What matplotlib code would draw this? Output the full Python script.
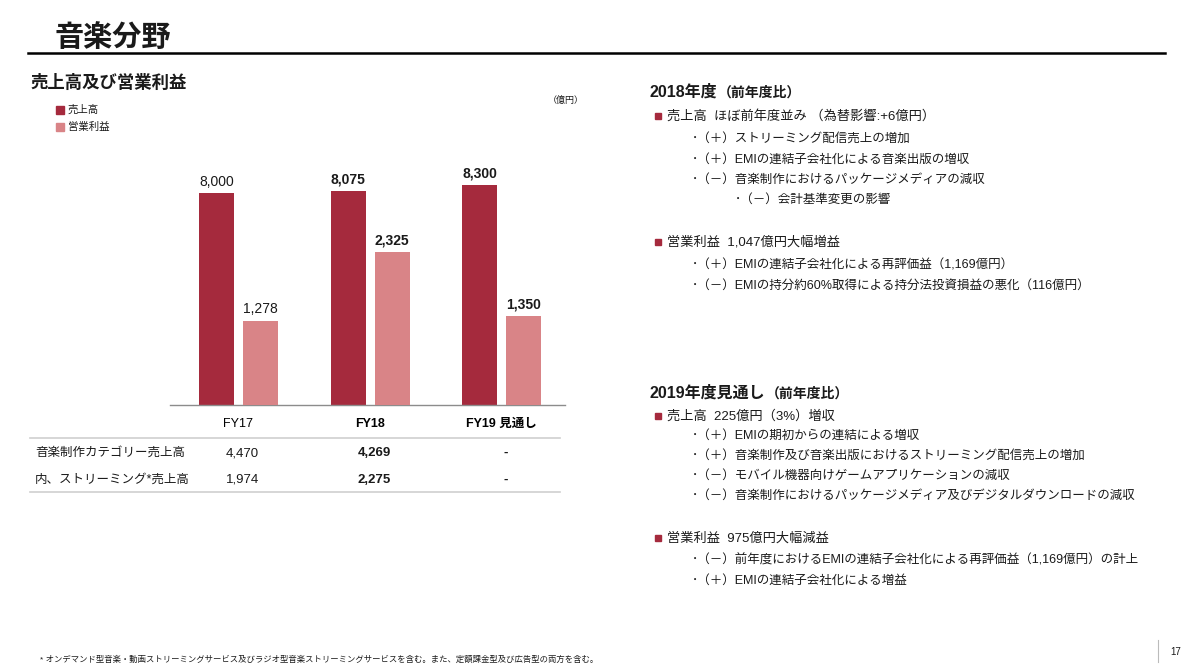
import matplotlib
matplotlib.use("Agg")
import matplotlib.pyplot as plt
from matplotlib.transforms import blended_transform_factory
from matplotlib.patches import Rectangle
from matplotlib.lines import Line2D

plt.rcParams['font.family'] = ['Liberation Sans', 'Noto Sans CJK JP', 'DejaVu Sans']

# ---------------- data ----------------
categories = ['FY17', 'FY18', 'FY19 見通し']
bold_cols = [False, True, True]
sales = [8000, 8075, 8300]
profit = [1278, 2325, 1350]
sales_labels = ['8,000', '8,075', '8,300']
profit_labels = ['1,278', '2,325', '1,350']
table_rows = ['音楽制作カテゴリー売上高', '内、ストリーミング*売上高']
music_prod_sales = ['4,470', '4,269', '-']
streaming_sales = ['1,974', '2,275', '-']

title = '音楽分野'
subtitle = '売上高及び営業利益'
legend_labels = ['売上高', '営業利益']
unit_label = '（億円）'

sec1_head = '2018年度'
sec1_head2 = '（前年度比）'
sec1_b1 = '売上高  ほぼ前年度並み （為替影響:+6億円）'
sec1_b1_items = ['･（＋）ストリーミング配信売上の増加',
                 '･（＋）EMIの連結子会社化による音楽出版の増収',
                 '･（－）音楽制作におけるパッケージメディアの減収']
sec1_b1_sub = '･（－）会計基準変更の影響'
sec1_b2 = '営業利益  1,047億円大幅増益'
sec1_b2_items = ['･（＋）EMIの連結子会社化による再評価益（1,169億円）',
                 '･（－）EMIの持分約60%取得による持分法投資損益の悪化（116億円）']

sec2_head = '2019年度見通し'
sec2_head2 = '（前年度比）'
sec2_b1 = '売上高  225億円（3%）増収'
sec2_b1_items = ['･（＋）EMIの期初からの連結による増収',
                 '･（＋）音楽制作及び音楽出版におけるストリーミング配信売上の増加',
                 '･（－）モバイル機器向けゲームアプリケーションの減収',
                 '･（－）音楽制作におけるパッケージメディア及びデジタルダウンロードの減収']
sec2_b2 = '営業利益  975億円大幅減益'
sec2_b2_items = ['･（－）前年度におけるEMIの連結子会社化による再評価益（1,169億円）の計上',
                 '･（＋）EMIの連結子会社化による増益']

footnote = '* オンデマンド型音楽・動画ストリーミングサービス及びラジオ型音楽ストリーミングサービスを含む。また、定額課金型及び広告型の両方を含む。'
page_no = '17'

c_sales = '#A52A3D'
c_profit = '#D98487'
c_text = '#1a1a1a'

W, H = 1195, 667
fig = plt.figure(figsize=(W / 100, H / 100), dpi=100)
fig.patch.set_facecolor('white')


def fx(x):
    return x / W


def fy(y):
    return 1 - y / H


def txt(x, y, s, size=9.5, weight='normal', ha='left', va='center', color=c_text):
    return fig.text(fx(x), fy(y), s, fontsize=size, fontweight=weight, ha=ha, va=va, color=color)


# ---------------- header ----------------
txt(55, 38, title, size=21, weight='bold')
fig.add_artist(Line2D([fx(28), fx(1165)], [fy(53), fy(53)], color='black', lw=1.8))
txt(30, 82, subtitle, size=12.5, weight='bold')

# legend
for i, lab in enumerate(legend_labels):
    yy = 110 + i * 17
    fig.add_artist(Rectangle((fx(56), fy(yy + 4)), 8 / W, 8 / H,
                             color=[c_sales, c_profit][i], transform=fig.transFigure))
    txt(68, yy, lab, size=7.5)
txt(548, 100, unit_label, size=6.5)

# ---------------- chart ----------------
ax_left, ax_right = 170, 565
ax_top, ax_bot = 150, 405
ax = fig.add_axes([fx(ax_left), fy(ax_bot), (ax_right - ax_left) / W, (ax_bot - ax_top) / H])
ax2 = ax.twinx()

x = list(range(len(categories)))
bw = 0.265
off = 0.167
ax.bar([i - off for i in x], sales, width=bw, color=c_sales, zorder=2)
ax2.bar([i + off for i in x], profit, width=bw, color=c_profit, zorder=2)
ax.set_ylim(0, 9623)
ax2.set_ylim(0, 3864)
ax.set_xlim(-0.52, 2.48)

for i in x:
    w = 'bold' if bold_cols[i] else 'normal'
    ax.annotate(sales_labels[i], (i - off, sales[i]), xytext=(0, 3), textcoords='offset points',
                ha='center', va='bottom', fontsize=10, fontweight=w, color=c_text)
    ax2.annotate(profit_labels[i], (i + off, profit[i]), xytext=(0, 3), textcoords='offset points',
                 ha='center', va='bottom', fontsize=10, fontweight=w, color=c_text)

for a in (ax, ax2):
    for s in ['top', 'right', 'left']:
        a.spines[s].set_visible(False)
    a.set_yticks([])
    a.patch.set_alpha(0)
ax2.spines['bottom'].set_visible(False)
ax.spines['bottom'].set_color('#8c8c8c')
ax.spines['bottom'].set_linewidth(1)
ax.set_xticks(x)
ax.set_xticklabels(categories, fontsize=9)
for i, t in enumerate(ax.get_xticklabels()):
    t.set_fontweight('bold' if bold_cols[i] else 'normal')
ax.tick_params(axis='x', length=0, pad=9)
ax2.tick_params(axis='x', length=0)

# ---------------- table ----------------
tr = blended_transform_factory(ax.transData, fig.transFigure)
fig.add_artist(Line2D([fx(30), fx(560)], [fy(438), fy(438)], color='#cfcfcf', lw=1.2))
fig.add_artist(Line2D([fx(30), fx(560)], [fy(492), fy(492)], color='#cfcfcf', lw=1.2))
for r, (lab, vals) in enumerate(zip(table_rows, [music_prod_sales, streaming_sales])):
    yy = 452 + r * 27
    txt(35, yy + 4, lab, size=9, va='baseline')
    for i in x:
        fig.text(i + 0.03, fy(yy + 4), vals[i], transform=tr, ha='center', va='baseline', fontsize=9.5,
                 fontweight='bold' if bold_cols[i] else 'normal', color=c_text)

# ---------------- right panel ----------------
def bullet(y, s):
    fig.add_artist(Rectangle((fx(655), fy(y + 3)), 6 / W, 6 / H, color=c_sales,
                             transform=fig.transFigure))
    txt(667, y, s, size=9.5)


def heading(y, s1, s2):
    t = txt(650, y, s1, size=11.5, weight='bold', va='baseline')
    fig.canvas.draw()
    bb = t.get_window_extent()
    fig.text(bb.x1 / fig.dpi / fig.get_figwidth(), fy(y), s2, fontsize=10, fontweight='bold',
             ha='left', va='baseline', color=c_text)


heading(97, sec1_head, sec1_head2)
bullet(116, sec1_b1)
for k, s in enumerate(sec1_b1_items):
    txt(692, 139 + k * 20.5, s, size=9)
txt(735, 200, sec1_b1_sub, size=9)
bullet(242, sec1_b2)
for k, s in enumerate(sec1_b2_items):
    txt(692, 265 + k * 20.5, s, size=9)

heading(398, sec2_head, sec2_head2)
bullet(416, sec2_b1)
for k, s in enumerate(sec2_b1_items):
    txt(692, 436 + k * 20, s, size=9)
bullet(538, sec2_b2)
for k, s in enumerate(sec2_b2_items):
    txt(692, 560 + k * 20.5, s, size=9)

# ---------------- footer ----------------
txt(40, 660, footnote, size=6)
fig.add_artist(Line2D([fx(1158), fx(1158)], [fy(640), fy(662)], color='#bbbbbb', lw=0.8))
txt(1170, 652, page_no, size=7)

fig.savefig('out.png', dpi=100)
